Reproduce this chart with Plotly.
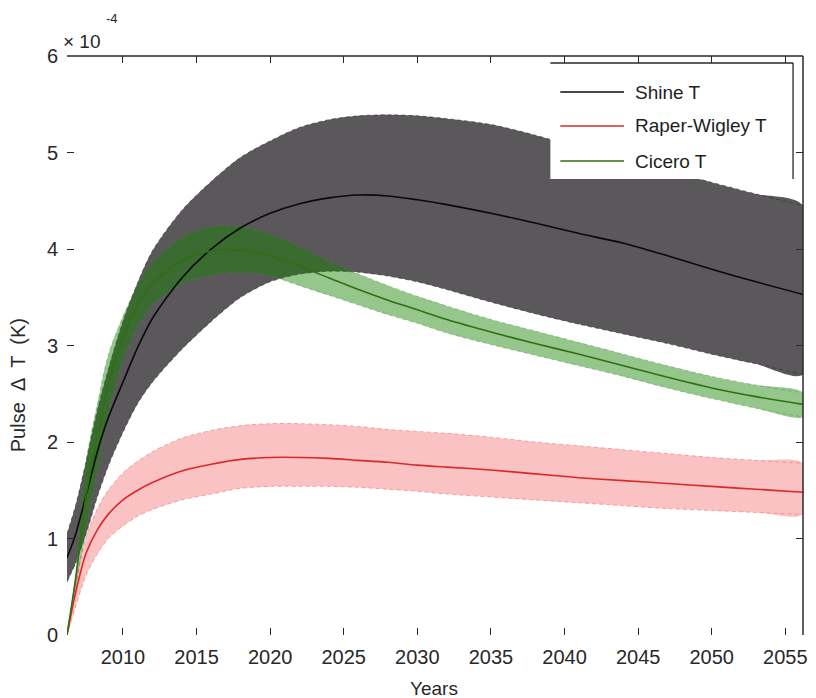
import plotly.graph_objects as go

# Model years (x) and temperature response of a unit pulse, in units of 1e-4 K
years = [2006.2, 2006.8, 2007.5, 2008.3, 2009, 2010, 2011, 2012, 2014, 2016, 2018,
         2020, 2022, 2024, 2026, 2028, 2030, 2032, 2035, 2038, 2041, 2044, 2047,
         2050, 2053, 2056.2]

shine_mean = [0.80, 1.05, 1.45, 1.92, 2.25, 2.62, 2.98, 3.28, 3.70, 4.00, 4.22,
              4.37, 4.47, 4.53, 4.56, 4.55, 4.51, 4.46, 4.37, 4.27, 4.16, 4.06,
              3.93, 3.79, 3.66, 3.53]
shine_upper = [1.05, 1.35, 1.80, 2.35, 2.75, 3.25, 3.65, 3.98, 4.40, 4.70, 4.95,
               5.12, 5.26, 5.34, 5.38, 5.39, 5.38, 5.35, 5.29, 5.18, 5.05, 4.93,
               4.81, 4.69, 4.57, 4.45]
shine_lower = [0.55, 0.75, 1.05, 1.45, 1.75, 2.10, 2.40, 2.62, 2.96, 3.25, 3.50,
               3.66, 3.74, 3.77, 3.76, 3.72, 3.66, 3.58, 3.45, 3.33, 3.22, 3.12,
               3.02, 2.91, 2.81, 2.70]

rw_mean = [0.00, 0.45, 0.85, 1.10, 1.25, 1.40, 1.50, 1.58, 1.70, 1.77, 1.82,
           1.84, 1.84, 1.83, 1.81, 1.79, 1.76, 1.74, 1.71, 1.67, 1.63, 1.60,
           1.57, 1.54, 1.51, 1.48]
rw_upper = [0.00, 0.55, 1.02, 1.32, 1.50, 1.68, 1.80, 1.90, 2.04, 2.12, 2.17,
            2.19, 2.19, 2.18, 2.16, 2.13, 2.11, 2.09, 2.05, 2.00, 1.96, 1.92,
            1.88, 1.84, 1.81, 1.78]
rw_lower = [0.00, 0.30, 0.62, 0.85, 1.00, 1.13, 1.23, 1.30, 1.40, 1.46, 1.52,
            1.54, 1.54, 1.54, 1.53, 1.51, 1.49, 1.46, 1.43, 1.40, 1.37, 1.34,
            1.31, 1.29, 1.27, 1.25]

cicero_mean = [0.00, 0.60, 1.45, 2.08, 2.60, 3.08, 3.42, 3.64, 3.88, 3.98, 3.99,
               3.93, 3.82, 3.70, 3.58, 3.47, 3.37, 3.27, 3.14, 3.02, 2.91, 2.79,
               2.67, 2.56, 2.47, 2.39]
cicero_upper = [0.02, 0.65, 1.80, 2.42, 2.90, 3.30, 3.62, 3.86, 4.12, 4.23, 4.23,
                4.15, 4.02, 3.87, 3.74, 3.62, 3.51, 3.41, 3.27, 3.15, 3.03, 2.91,
                2.79, 2.68, 2.59, 2.51]
cicero_lower = [0.00, 0.50, 1.10, 1.75, 2.30, 2.85, 3.20, 3.42, 3.64, 3.73, 3.76,
                3.72, 3.62, 3.52, 3.42, 3.32, 3.23, 3.13, 3.01, 2.90, 2.79, 2.68,
                2.56, 2.45, 2.35, 2.26]

x_ticks = [2010, 2015, 2020, 2025, 2030, 2035, 2040, 2045, 2050, 2055]
y_ticks = [0, 1, 2, 3, 4, 5, 6]
series_names = ["Shine T", "Raper-Wigley T", "Cicero T"]

FONT = "Liberation Sans, Arial, sans-serif"
TEXT = "rgb(40,40,40)"
SMOOTH = 0.8

fig = go.Figure()


def add_band(upper, lower, fill, edge):
    fig.add_trace(go.Scatter(
        x=years + years[::-1], y=upper + lower[::-1], fill="toself",
        fillcolor=fill, line=dict(width=0, shape="spline", smoothing=SMOOTH),
        mode="lines", hoverinfo="skip", showlegend=False))
    for bound in (upper, lower):
        fig.add_trace(go.Scatter(
            x=years, y=bound, mode="lines", hoverinfo="skip", showlegend=False,
            line=dict(color=edge, width=0.8, dash="4px,3px", shape="spline",
                      smoothing=SMOOTH)))


# uncertainty bands
add_band(shine_upper, shine_lower, "rgb(90,88,90)", "rgba(50,48,50,0.8)")
add_band(cicero_upper, cicero_lower, "rgba(20,130,0,0.45)", "rgba(70,140,50,0.5)")
add_band(rw_upper, rw_lower, "rgba(235,20,20,0.26)", "rgba(235,90,90,0.6)")

# central estimates
line_colors = ["rgb(10,10,10)", "rgb(220,40,40)", "rgb(50,110,20)"]
for name, ys, col in zip(series_names, [shine_mean, rw_mean, cicero_mean], line_colors):
    fig.add_trace(go.Scatter(
        x=years, y=ys, mode="lines", name=name, showlegend=False,
        line=dict(color=col, width=1.6, shape="spline", smoothing=SMOOTH)))

# plot-area geometry in pixels
L, R, T, B = 67, 807, 56, 635
W, H = R - L, B - T


def px(xp):
    return (xp - L) / W


def py(yp):
    return (B - yp) / H


shapes = [
    # top and right frame lines
    dict(type="line", xref="paper", yref="paper", x0=0, x1=1, y0=1, y1=1,
         line=dict(color=TEXT, width=1.5)),
    dict(type="line", xref="paper", yref="paper", x0=1, x1=1, y0=0, y1=1,
         line=dict(color=TEXT, width=1.5)),
    # legend box
    dict(type="rect", xref="paper", yref="paper", x0=px(553), x1=px(797),
         y0=py(179), y1=py(63), fillcolor="white", line=dict(width=0), layer="above"),
    dict(type="line", xref="paper", yref="paper", x0=px(553), x1=px(797),
         y0=py(63), y1=py(63), line=dict(color=TEXT, width=1.3), layer="above"),
    dict(type="line", xref="paper", yref="paper", x0=px(797), x1=px(797),
         y0=py(179), y1=py(63), line=dict(color=TEXT, width=1.3), layer="above"),
]
annotations = []
legend_rows = [92, 126, 161]
for name, col, yr in zip(series_names, line_colors, legend_rows):
    shapes.append(dict(type="line", xref="paper", yref="paper", x0=px(563), x1=px(627),
                       y0=py(yr), y1=py(yr), line=dict(color=col, width=1.6), layer="above"))
    annotations.append(dict(text=name, xref="paper", yref="paper", x=px(636), y=py(yr),
                            xanchor="left", yanchor="middle", showarrow=False,
                            font=dict(family=FONT, size=19, color="rgb(30,30,30)")))

# exponent label and axis titles
annotations += [
    dict(text="× 10", xref="paper", yref="paper", x=px(61), y=py(42), xanchor="left",
         yanchor="middle", showarrow=False, font=dict(family=FONT, size=19, color=TEXT)),
    dict(text="-4", xref="paper", yref="paper", x=px(104), y=py(18), xanchor="left",
         yanchor="middle", showarrow=False, font=dict(family=FONT, size=13, color=TEXT)),
    dict(text="Years", xref="paper", yref="paper", x=px(436), y=py(688), xanchor="center",
         yanchor="middle", showarrow=False, font=dict(family=FONT, size=19, color=TEXT)),
    dict(text="Pulse  Δ  T  (K)", xref="paper", yref="paper", x=px(18), y=py(385),
         xanchor="center", yanchor="middle", textangle=-90, showarrow=False,
         font=dict(family=FONT, size=20, color=TEXT)),
]

axis_common = dict(showgrid=False, zeroline=False, showline=False, ticks="inside",
                   ticklen=7, tickwidth=1.3, tickcolor=TEXT, mirror="ticks",
                   tickfont=dict(family=FONT, size=20, color=TEXT))

fig.update_layout(
    width=816, height=698,
    margin=dict(l=L, r=816 - R, t=T, b=698 - B),
    plot_bgcolor="white", paper_bgcolor="white",
    xaxis=dict(range=[2006.2, 2056.2], tickvals=x_ticks, ticklabelstandoff=8, **axis_common),
    yaxis=dict(range=[0, 6], tickvals=y_ticks, ticklabelstandoff=8, **axis_common),
    shapes=shapes, annotations=annotations, showlegend=False,
)

fig.write_html("out.html")
